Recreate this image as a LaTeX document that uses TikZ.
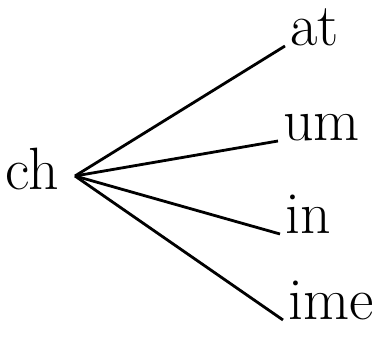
\documentclass[tikz,border=0pt]{standalone}
\usepackage{fontspec}
\usepackage{tikz}

\begin{document}
\begin{tikzpicture}[x=0.02cm,y=-0.02cm,
    word/.style={inner xsep=0.1cm,inner ysep=0pt,font=\fontsize{34}{40}\selectfont},
    branch/.style={line width=1.6pt}]
    \useasboundingbox (0,0) rectangle (386,337);
    \node[word,inner sep=0pt,anchor=base west] (ch) at (5,190) {ch};
    \coordinate (root) at (75,176);
    \node[word,anchor=base west] (at) at (285,46) {at};
    \node[word,anchor=base west] (um) at (278,141) {um};
    \node[word,anchor=base west] (in) at (280,234) {in};
    \node[word,anchor=base west] (ime) at (283,320) {ime};
    \draw[branch] (root) -- (at.base west);
    \draw[branch] (root) -- (um.base west);
    \draw[branch] (root) -- (in.base west);
    \draw[branch] (root) -- (ime.base west);
\end{tikzpicture}
\end{document}
